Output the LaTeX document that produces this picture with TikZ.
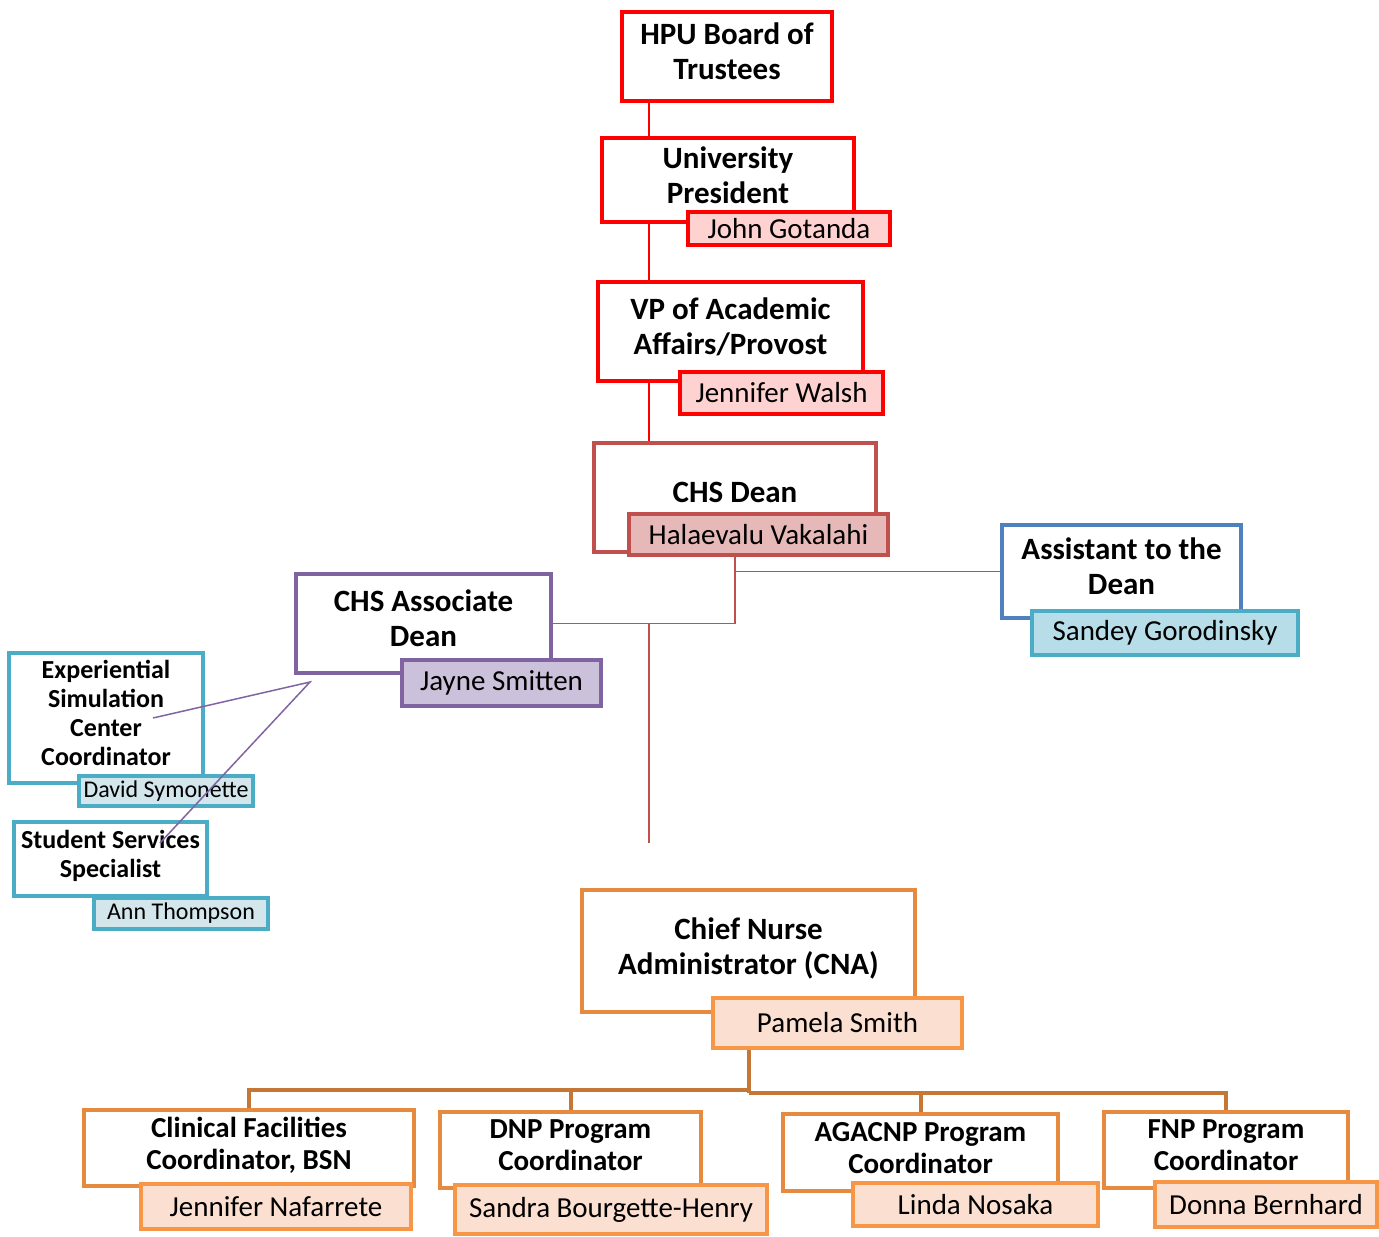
\documentclass[tikz,border=0pt]{standalone}
\usepackage{fontspec}
\setmainfont{Carlito}
\usetikzlibrary{backgrounds}
\definecolor{topred}{HTML}{FF0000}
\definecolor{toppink}{HTML}{FFD2D2}
\definecolor{deanred}{HTML}{C0504D}
\definecolor{deanpink}{HTML}{E6B9B8}
\definecolor{asstblue}{HTML}{4F81BD}
\definecolor{aqua}{HTML}{4BACC6}
\definecolor{aquafill}{HTML}{B7DEE8}
\definecolor{aquapale}{HTML}{D3E6EC}
\definecolor{lilac}{HTML}{8064A2}
\definecolor{lilacfill}{HTML}{CCC1DA}
\definecolor{nurse}{HTML}{E58A3E}
\definecolor{nurseedge}{HTML}{F79646}
\definecolor{nursefill}{HTML}{FBDFD0}
\definecolor{nursebus}{HTML}{C57736}
\begin{document}
\begin{tikzpicture}[x=0.5pt,y=-0.5pt,
    role/.style={draw=#1, line width=2pt, fill=white, inner sep=0pt, align=center,
        text depth=5pt, font=\bfseries\fontsize{15.5}{17.5}\selectfont},
    smallrole/.style={role=#1, font=\bfseries\fontsize{13}{14.5}\selectfont},
    lowrole/.style={role=#1, font=\bfseries\fontsize{14.5}{16}\selectfont},
    person/.style={draw=#1, line width=2pt, inner sep=0pt,
        font=\fontsize{14.5}{17}\selectfont},
    smallperson/.style={person=#1, font=\fontsize{12}{14}\selectfont},
    thinline/.style={line width=0.75pt},
    busline/.style={nursebus, line width=2pt}]
\useasboundingbox (0,0) rectangle (1379,1236);
% top of the chart
\node[role=topred, minimum width=105pt, minimum height=44.5pt] (board) at (727,56.5) {HPU Board of\\Trustees};
\node[role=topred, minimum width=126pt, minimum height=42pt] (pres) at (728,180) {University\\President};
\node[person=topred, fill=toppink, minimum width=101pt, minimum height=16.5pt] (presname) at (789,228.5) {John Gotanda};
\node[role=topred, minimum width=132.5pt, minimum height=49.5pt] (vp) at (730.5,331.5) {VP of Academic\\Affairs/Provost};
\node[person=topred, fill=toppink, minimum width=101.5pt, minimum height=21pt] (vpname) at (781.5,393) {Jennifer Walsh};
\node[role=deanred, minimum width=141pt, minimum height=54.5pt] (dean) at (735,497.5) {CHS Dean};
\node[person=deanred, fill=deanpink, minimum width=129.5pt, minimum height=20.5pt] (deanname) at (758.5,534.5) {Halaevalu Vakalahi};
% dean's staff
\node[role=asstblue, minimum width=119.5pt, minimum height=46.5pt] (asst) at (1121.5,571.5) {Assistant to the\\Dean};
\node[person=aqua, fill=aquafill, minimum width=133pt, minimum height=22pt] (asstname) at (1165,633) {Sandey Gorodinsky};
\node[role=lilac, minimum width=127.5pt, minimum height=49.5pt] (assoc) at (423.5,623.5) {CHS Associate\\Dean};
\node[person=lilac, fill=lilacfill, minimum width=99.5pt, minimum height=23pt] (assocname) at (501.5,683) {Jayne Smitten};
\node[smallrole=aqua, minimum width=97pt, minimum height=65pt] (sim) at (106,718) {Experiential\\Simulation\\Center\\Coordinator};
\node[smallperson=aqua, fill=aquapale, minimum width=87pt, minimum height=15pt] (simname) at (166,791) {David Symonette};
\node[smallrole=aqua, minimum width=96.5pt, minimum height=37pt] (stud) at (110.5,859) {Student Services\\Specialist};
\node[smallperson=aqua, fill=aquapale, minimum width=87pt, minimum height=15.5pt] (studname) at (181,913.5) {Ann Thompson};
% nursing
\node[role=nurse, minimum width=166.5pt, minimum height=61pt] (cna) at (748.5,951) {Chief Nurse\\Administrator (CNA)};
\node[person=nurseedge, fill=nursefill, minimum width=124.5pt, minimum height=25pt] (cnaname) at (837.5,1023) {Pamela Smith};
\node[lowrole=nurse, minimum width=165pt, minimum height=38pt] (clin) at (249,1148) {Clinical Facilities\\Coordinator, BSN};
\node[person=nurseedge, fill=nursefill, minimum width=135pt, minimum height=22.5pt] (clinname) at (276,1206.5) {Jennifer Nafarrete};
\node[lowrole=nurse, minimum width=130.5pt, minimum height=38pt] (dnp) at (570.5,1150) {DNP Program\\Coordinator};
\node[person=nurseedge, fill=nursefill, minimum width=156pt, minimum height=24.5pt] (dnpname) at (611,1209.5) {Sandra Bourgette-Henry};
\node[lowrole=nurse, minimum width=137.5pt, minimum height=38.5pt] (agac) at (920.5,1152.5) {AGACNP Program\\Coordinator};
\node[person=nurseedge, fill=nursefill, minimum width=122.5pt, minimum height=21.5pt] (agacname) at (975.5,1204.5) {Linda Nosaka};
\node[lowrole=nurse, minimum width=122pt, minimum height=38pt] (fnp) at (1226,1150) {FNP Program\\Coordinator};
\node[person=nurseedge, fill=nursefill, minimum width=111pt, minimum height=22.5pt] (fnpname) at (1266,1204.5) {Donna Bernhard};
% connectors
\coordinate (spine) at (649,0);
\coordinate (spineend) at (649,843);
\coordinate (busL) at (748.5,1090);
\coordinate (busR) at (748.5,1093);
\begin{scope}[on background layer]
\draw[thinline, topred] (board.south -| spine) -- (dean.north -| spine);
\draw[thinline, deanred] (dean.south) |- (asst.west);
\draw[thinline, deanred] (dean.south) |- (assoc.east);
\draw[thinline, deanred] (assoc.east -| spine) -- (spineend);
\draw[busline] (cna.south) -- (busR);
\draw[busline] (busL) -| (clin.north);
\draw[busline] (busL) -| (dnp.north);
\draw[busline] (busR) -| (agac.north);
\draw[busline] (busR) -| (fnp.north);
\end{scope}
\coordinate (assocfoot) at (310,682);
\coordinate (simtip) at (153,718);
\coordinate (studtip) at (160,843);
\draw[thinline, lilac] (simtip) -- (assocfoot) -- (studtip);
\end{tikzpicture}
\end{document}
